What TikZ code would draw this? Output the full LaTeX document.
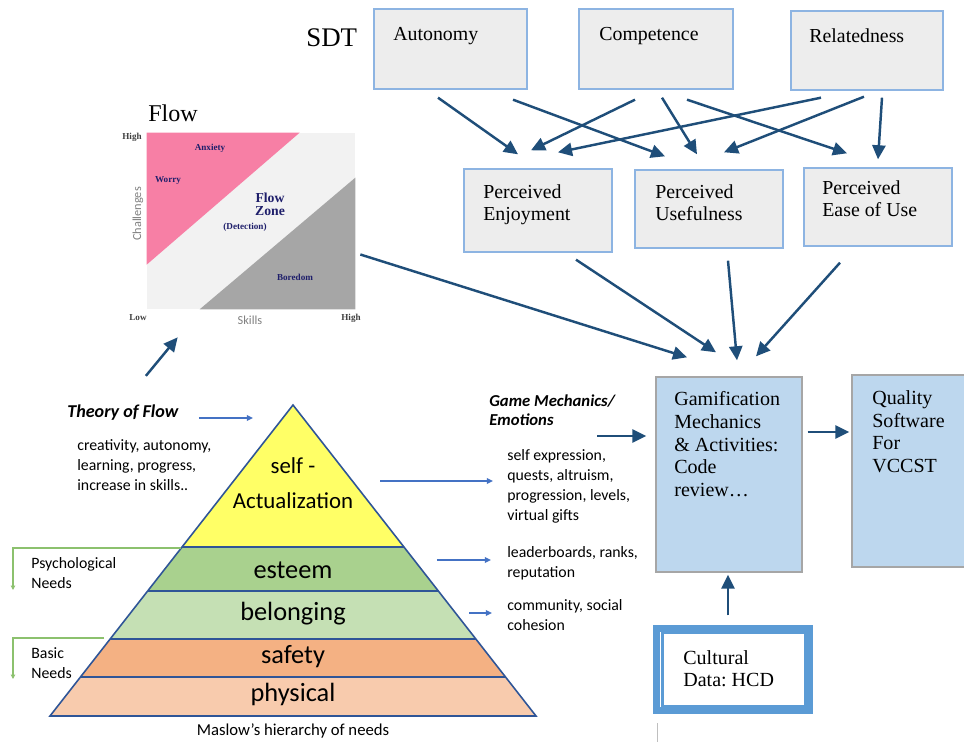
\documentclass[tikz,border=0pt]{standalone}
\usepackage{fontspec}
\setmainfont{Liberation Serif}
\newfontfamily\calfont{Carlito}
\usetikzlibrary{calc,arrows.meta}
\definecolor{darrow}{HTML}{1F4E79}
\definecolor{larrow}{HTML}{4472C4}
\definecolor{boxline}{HTML}{8DB4E2}
\definecolor{boxfill}{HTML}{EDEDED}
\definecolor{gamfill}{HTML}{BDD7EE}
\definecolor{gamline}{HTML}{A6A6A6}
\definecolor{cultline}{HTML}{5B9BD5}
\definecolor{flowpink}{HTML}{F77FA5}
\definecolor{flowgray}{HTML}{A6A6A6}
\definecolor{flowbg}{HTML}{F2F2F2}
\definecolor{flowtext}{HTML}{1F1F6B}
\definecolor{pyrline}{HTML}{2F5597}
\definecolor{lvlself}{HTML}{FFFF66}
\definecolor{lvlesteem}{HTML}{A9D18E}
\definecolor{lvlbelong}{HTML}{C5E0B4}
\definecolor{lvlsafety}{HTML}{F4B183}
\definecolor{lvlphys}{HTML}{F8CBAD}
\definecolor{needline}{HTML}{8CC16E}

\begin{document}
\begin{tikzpicture}[x=0.02cm,y=-0.02cm,
  every node/.style={inner sep=0pt},
  sdtbox/.style={draw=boxline,fill=boxfill,line width=0.8pt},
  gambox/.style={draw=gamline,fill=gamfill,line width=0.8pt},
  sertext/.style={anchor=north west,align=left,font=\fontsize{11.3}{12.5}\selectfont},
  caltext/.style={anchor=west,align=left,font=\calfont\fontsize{9}{11.4}\selectfont},
  levtext/.style={font=\calfont\fontsize{15}{18}\selectfont},
  chartlbl/.style={font=\bfseries\fontsize{5.2}{6}\selectfont,text=flowtext},
  axislbl/.style={font=\bfseries\fontsize{5.2}{6}\selectfont,text=black!75},
  axisname/.style={font=\calfont\fontsize{7}{8}\selectfont,text=black!50},
  bigarrow/.style={draw=darrow,line width=1.4pt,-{Triangle[length=8pt,width=7.5pt]}},
  smallarrow/.style={draw=larrow,line width=0.9pt,-{Triangle[length=3.5pt,width=3.2pt]}},
  needarrow/.style={draw=needline,line width=0.6pt,-{Triangle[length=2.5pt,width=2.5pt]}}]
\useasboundingbox (0,0) rectangle (964,742);

\node[font=\fontsize{15.3}{17}\selectfont,anchor=north west] (sdt) at (306,28) {SDT};
\node[sdtbox,minimum width=3.06cm,minimum height=1.6cm] (aut) at (450.5,49) {};
\node[sertext] (aut-t) at (393,27) {Autonomy};
\node[sdtbox,minimum width=3.08cm,minimum height=1.6cm] (com) at (656,49) {};
\node[sertext] (com-t) at (599,27) {Competence};
\node[sdtbox,minimum width=3.04cm,minimum height=1.58cm] (rel) at (867,50.5) {};
\node[sertext] (rel-t) at (809,28) {Relatedness};

\node[sdtbox,minimum width=2.96cm,minimum height=1.66cm] (penj) at (538,210.5) {};
\node[sertext] (penj-t) at (483,184) {Perceived\\Enjoyment};
\node[sdtbox,minimum width=2.96cm,minimum height=1.56cm] (puse) at (709,209) {};
\node[sertext] (puse-t) at (655,184) {Perceived\\Usefulness};
\node[sdtbox,minimum width=2.96cm,minimum height=1.56cm] (peou) at (878,207) {};
\node[sertext] (peou-t) at (822,180) {Perceived\\Ease of Use};

\draw[bigarrow] ($(aut.south)+(-12.5,8)$) -- ($(penj.north)+(-20,-14)$);
\draw[bigarrow] ($(aut.south)+(62.5,10)$) -- ($(puse.north)+(-44,-13)$);
\draw[bigarrow] ($(com.south)+(-21,10)$) -- ($(penj.north)+(-7,-18)$);
\draw[bigarrow] ($(com.south)+(6,8)$) -- ($(puse.north)+(-12,-15)$);
\draw[bigarrow] ($(com.south)+(31,10)$) -- ($(peou.north)+(-31,-14)$);
\draw[bigarrow] ($(rel.south)+(-46,7)$) -- ($(penj.north)+(20,-16)$);
\draw[bigarrow] ($(rel.south)+(-3,6)$) -- ($(puse.north)+(15,-17)$);
\draw[bigarrow] ($(rel.south)+(15,7)$) -- ($(peou.north)+(0,-8)$);

\node[font=\fontsize{13.7}{15}\selectfont,anchor=north west] (flow-t) at (148,104) {Flow};
\node[fill=flowbg,minimum width=4.16cm,minimum height=3.52cm] (flow) at (251,221) {};
\fill[flowpink] (flow.north west) -- ($(flow.north west)+(153,0)$) -- ($(flow.north west)+(0,132)$) -- cycle;
\fill[flowgray] ($(flow.south west)+(53,0)$) -- (flow.south east) -- ($(flow.north east)+(0,45)$) -- cycle;
\node[axislbl] (hi-c) at (132,137) {High};
\node[axislbl] (lo-s) at (138,318) {Low};
\node[axislbl] (hi-s) at (351,318) {High};
\node[axisname] (skills) at (250,320) {Skills};
\node[axisname,rotate=90] (chall) at (138,214) {Challenges};
\node[chartlbl] (anx) at (210,148) {Anxiety};
\node[chartlbl] (worry) at (168,181) {Worry};
\node[chartlbl,align=center,font=\bfseries\fontsize{7.8}{7.6}\selectfont] (fzone) at (270,204) {Flow\\Zone};
\node[chartlbl] (detect) at (245,227) {(Detection)};
\node[chartlbl] (bored) at (295,277) {Boredom};

\node[gambox,minimum width=2.92cm,minimum height=3.9cm] (gam) at (729,474.5) {};
\node[sertext,font=\fontsize{11.4}{13}\selectfont] (gam-t) at (674,391) {Gamification\\Mechanics\\\& Activities:\\Code\\review…};
\node[gambox,minimum width=2.4cm,minimum height=3.84cm] (qual) at (912,471) {};
\node[sertext,font=\fontsize{11.4}{13}\selectfont] (qual-t) at (872,390) {Quality\\Software\\For\\VCCST};
\node[draw=cultline,line width=3.6pt,fill=white,minimum width=3.06cm,minimum height=1.64cm] (cult) at (733,669.5) {};
\draw[cultline,line width=1.3pt] ($(cult.north west)+(9,8)$) rectangle ($(cult.south east)+(-8,-8)$);
\node[sertext,font=\frenchspacing\fontsize{11.4}{12.5}\selectfont] (cult-t) at (683,650) {Cultural\\Data: HCD};
\draw[black!25,line width=0.5pt] ($(cult.south west)+(4.5,9.5)$) -- ++(0,22);

\draw[bigarrow] ($(flow.east)+(5,33.5)$) -- ($(gam.north)+(-42,-19)$);
\draw[bigarrow] ($(penj.south)+(38,7)$) -- ($(gam.north)+(-13,-24)$);
\draw[bigarrow] ($(puse.south)+(19,12)$) -- ($(gam.north)+(8,-16)$);
\draw[bigarrow] ($(peou.south)+(-38,16)$) -- ($(gam.north)+(27,-20)$);
\draw[bigarrow] ($(gam.east)+(5,-42.5)$) -- ($(qual.west)+(-2,-39)$);
\draw[bigarrow] ($(cult.north)+(-5,-10)$) -- ($(gam.south)+(-1,2)$);

\coordinate (apex) at (293,405);
\coordinate (bl) at (50,716);
\coordinate (br) at (536,716);
\fill[lvlself] (apex) -- ($(apex)!.4566!(bl)$) -- ($(apex)!.4566!(br)$) -- cycle;
\fill[lvlesteem] ($(apex)!.4566!(bl)$) -- ($(apex)!.598!(bl)$) -- ($(apex)!.598!(br)$) -- ($(apex)!.4566!(br)$) -- cycle;
\fill[lvlbelong] ($(apex)!.598!(bl)$) -- ($(apex)!.7524!(bl)$) -- ($(apex)!.7524!(br)$) -- ($(apex)!.598!(br)$) -- cycle;
\fill[lvlsafety] ($(apex)!.7524!(bl)$) -- ($(apex)!.8746!(bl)$) -- ($(apex)!.8746!(br)$) -- ($(apex)!.7524!(br)$) -- cycle;
\fill[lvlphys] ($(apex)!.8746!(bl)$) -- (bl) -- (br) -- ($(apex)!.8746!(br)$) -- cycle;
\draw[pyrline,line width=0.9pt] ($(apex)!.4566!(bl)$) -- ($(apex)!.4566!(br)$);
\draw[pyrline,line width=0.9pt] ($(apex)!.598!(bl)$) -- ($(apex)!.598!(br)$);
\draw[pyrline,line width=0.9pt] ($(apex)!.7524!(bl)$) -- ($(apex)!.7524!(br)$);
\draw[pyrline,line width=0.9pt] ($(apex)!.8746!(bl)$) -- ($(apex)!.8746!(br)$);
\draw[pyrline,line width=0.9pt,line join=miter] (apex) -- (bl) -- (br) -- cycle;

\node[levtext,align=center,font=\calfont\fontsize{13}{20}\selectfont] (selfact) at (293,483) {self -\\Actualization};
\node[levtext] (esteem) at (293,570) {esteem};
\node[levtext] (belong) at (293,614) {belonging};
\node[levtext] (safety) at (293,657) {safety};
\node[levtext] (phys) at (293,694) {physical};
\node[font=\calfont\fontsize{9.5}{11}\selectfont] (maslow) at (293,731) {Maslow’s hierarchy of needs};

\node[anchor=west,font=\calfont\bfseries\itshape\fontsize{10.3}{12}\selectfont] (tof) at (67,413) {Theory of Flow};
\node[caltext] (tof-t) at (77,465) {creativity, autonomy,\\learning, progress,\\increase in skills..};
\draw[smallarrow] ($(tof.east)+(20,5)$) -- ($(apex)+(-40,13)$);
\draw[bigarrow] ($(tof.north)+(23,-29)$) -- ($(flow.south west)+(31,28)$);

\coordinate (psy-end) at (13,590);
\coordinate (basic-top) at (104,638);
\coordinate (basic-end) at (13,679);
\draw[needarrow] ($(apex)!.4598!(bl)$) -| (psy-end);
\draw[needarrow] (basic-top) -| (basic-end);
\node[caltext] (psy) at (31,573) {Psychological\\Needs};
\node[caltext] (basic) at (31,663) {Basic\\Needs};

\node[anchor=north west,align=left,font=\calfont\bfseries\itshape\fontsize{9.5}{10.8}\selectfont] (gm-t) at (489,394) {Game Mechanics/\\Emotions};
\coordinate (gm-in) at (597,436);
\draw[bigarrow] (gm-in) -- ($(gam.west)+(-9,-38.5)$);
\node[caltext] (gm1) at (507,486) {self expression,\\quests, altruism,\\progression, levels,\\virtual gifts};
\node[caltext] (gm2) at (507,563) {leaderboards, ranks,\\reputation};
\node[caltext] (gm3) at (507,615) {community, social\\cohesion};
\draw[smallarrow] ($(selfact.east)+(27,-2)$) -- ($(gm1.west)+(-14,-5)$);
\draw[smallarrow] ($(esteem.east)+(104,-10)$) -- ($(gm2.west)+(-16,-3)$);
\draw[smallarrow] ($(belong.east)+(123,-1)$) -- ($(gm3.west)+(-15,-2)$);
\end{tikzpicture}
\end{document}
